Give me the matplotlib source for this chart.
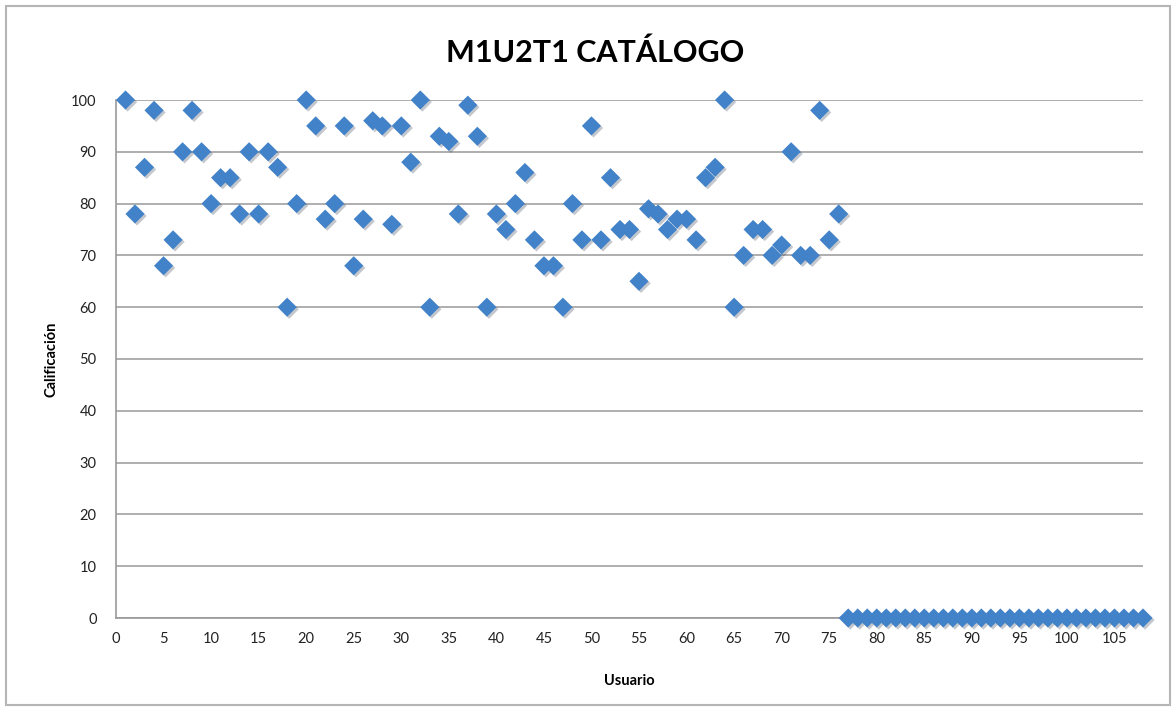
import numpy as np
import matplotlib
matplotlib.use("Agg")
import matplotlib.pyplot as plt
from matplotlib.patches import Rectangle
import matplotlib.patheffects as pe

# calificaciones por usuario (1..76), los demas usuarios con 0
usuarios = list(range(1, 109))
calif = [100, 78, 87, 98, 68, 73, 90, 98, 90, 80,
         85, 85, 78, 90, 78, 90, 87, 60, 80, 100,
         95, 77, 80, 95, 68, 77, 96, 95, 76, 95,
         88, 100, 60, 93, 92, 78, 99, 93, 60, 78,
         75, 80, 86, 73, 68, 68, 60, 80, 73, 95,
         73, 85, 75, 75, 65, 79, 78, 75, 77, 77,
         73, 85, 87, 100, 60, 70, 75, 75, 70, 72,
         90, 70, 70, 98, 73, 78] + [0] * 32
x_ticks = list(range(0, 110, 5))
y_ticks = list(range(0, 101, 10))

plt.rcParams['font.family'] = ['Lato', 'DejaVu Sans']

fig = plt.figure(figsize=(11.76, 7.09), dpi=100)
# marco exterior del grafico
fig.patches.append(Rectangle((6 / 1176, 4 / 709), 1164 / 1176, 699 / 709,
                             transform=fig.transFigure, fill=False,
                             edgecolor='#b5b5b5', linewidth=1.5))

ax = fig.add_axes([116 / 1176, 91 / 709, 1027 / 1176, 518 / 709])
ax.scatter(usuarios, calif, marker='D', s=95, color='#4282c9', zorder=3,
           linewidths=0, clip_on=False,
           path_effects=[pe.SimplePatchShadow(offset=(1.5, -1.5), alpha=0.25), pe.Normal()])

ax.set_xlim(0, 108)
ax.set_ylim(0, 100)
ax.set_xticks(x_ticks)
ax.set_yticks(y_ticks)
ax.yaxis.grid(True, color='#a8a8a8', linewidth=1.3)
ax.set_axisbelow(True)
for s in ['top', 'right']:
    ax.spines[s].set_visible(False)
for s in ['left', 'bottom']:
    ax.spines[s].set_color('#999999')
    ax.spines[s].set_linewidth(1.2)
ax.tick_params(length=0, labelsize=10.5, colors='#222222', pad=10)
ax.tick_params(axis='y', pad=14)

fig.suptitle('M1U2T1 CATÁLOGO', x=0.506, y=0.945, fontsize=22, fontweight='bold')
ax.set_xlabel('Usuario', fontsize=10.5, fontweight='bold', labelpad=20)
ax.set_ylabel('Calificación', fontsize=10.5, fontweight='bold', labelpad=9)

fig.savefig('out.png', dpi=100)
